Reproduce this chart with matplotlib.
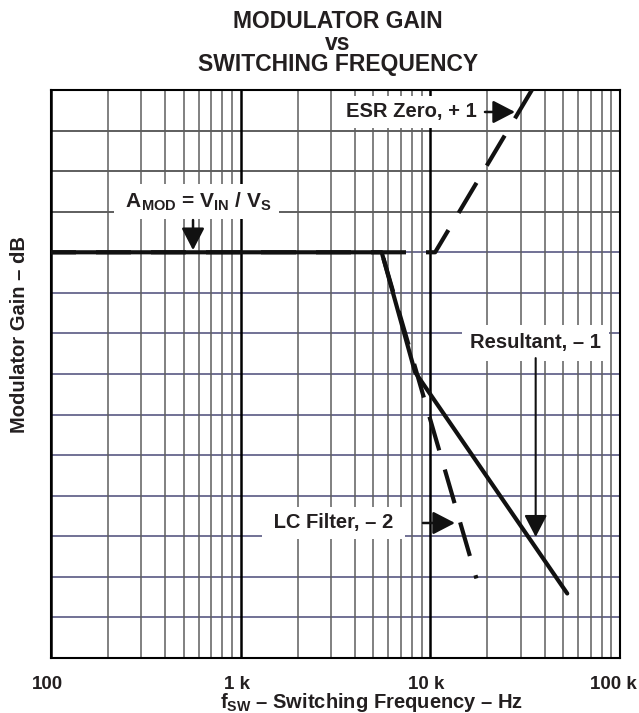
import matplotlib
matplotlib.use('Agg')
import matplotlib.pyplot as plt
from matplotlib.ticker import FixedLocator, NullFormatter
from matplotlib.transforms import ScaledTranslation

# data (gain in grid divisions, 0..14)
res_freq = [100, 5540, 8300, 52700]
res_gain = [10, 10, 7.05, 1.59]
lc_freq = [5540, 17500]
lc_gain = [10, 1.96]
esr_freq = [100, 10600, 34300]
esr_gain = [10, 10, 14]

tick_vals = [100, 1000, 10000, 100000]
tick_labels = ['100', '1 k', '10 k', '100 k']

plt.rcParams['font.family'] = ['Liberation Sans', 'DejaVu Sans']
plt.rcParams['font.weight'] = 'bold'
plt.rcParams['mathtext.fontset'] = 'custom'
plt.rcParams['mathtext.rm'] = 'Liberation Sans:bold'
plt.rcParams['mathtext.it'] = 'Liberation Sans:bold'
plt.rcParams['mathtext.bf'] = 'Liberation Sans:bold'
plt.rcParams['mathtext.default'] = 'rm'

ink = '#231f20'
fs = 14.5

fig = plt.figure(figsize=(6.39, 7.13), dpi=100)
ax = fig.add_axes([51 / 639, 55 / 713, 569 / 639, 568 / 713])

ax.set_xscale('log')
ax.set_xlim(100, 1e5)
ax.set_ylim(0, 14)

# grid
ax.set_yticks(range(0, 15))
ax.set_yticklabels([])
for g in range(1, 14):
    c = '#333333' if g > 10 else '#4a4a78'
    ax.axhline(g, color=c, lw=1.1, zorder=0.5)
ax.grid(True, which='major', axis='x', color='black', lw=1.8, zorder=0.5)
ax.grid(True, which='minor', axis='x', color='#5e5e5e', lw=1.1, zorder=0.5)
ax.xaxis.set_minor_formatter(NullFormatter())
ax.tick_params(which='both', length=0)
for s in ax.spines.values():
    s.set_linewidth(1.5)
    s.set_color('black')

ax.xaxis.set_major_locator(FixedLocator(tick_vals))
ax.set_xticklabels(tick_labels, fontsize=13.5, fontweight='bold', color=ink)
ax.tick_params(axis='x', pad=13)
for i, lbl in enumerate(ax.get_xticklabels()):
    dx = -0.07 if i == len(tick_vals) - 1 else -0.04
    lbl.set_transform(lbl.get_transform() + ScaledTranslation(dx, 0, fig.dpi_scale_trans))

# curves
lw = 3
ax.plot(esr_freq, esr_gain, color='#111111', lw=lw, linestyle=(2.4, (8.4, 4.8)), zorder=3)
ax.plot(lc_freq, lc_gain, color='#111111', lw=lw, linestyle=(11.7, (8.4, 4.8)), zorder=3)
ax.plot(res_freq, res_gain, color='#111111', lw=lw, solid_capstyle='round', zorder=3)

# labels with white boxes
box = dict(boxstyle='square,pad=0.3', fc='white', ec='none')
arrow = dict(arrowstyle='-|>,head_length=1.35,head_width=0.7', color='#111111',
             lw=1.8, shrinkA=0, shrinkB=0)

ax.text(0.255, 0.803, r' A$_{MOD}$ = V$_{IN}$ / V$_{S}$ ', transform=ax.transAxes,
        ha='center', va='center', fontsize=fs + 0.5, color=ink, bbox=box, zorder=4)
ax.annotate('', xy=(0.2496, 0.718), xytext=(0.2496, 0.771), xycoords='axes fraction',
            arrowprops=arrow, zorder=5)

ax.text(0.6336, 0.9613, 'ESR Zero, + 1', transform=ax.transAxes,
        ha='center', va='center', fontsize=fs, color=ink, bbox=box, zorder=4)
ax.annotate('', xy=(0.8155, 0.9613), xytext=(0.7627, 0.9613), xycoords='axes fraction',
            arrowprops=arrow, zorder=5)

ax.text(0.8515, 0.5546, 'Resultant, \u2013 1', transform=ax.transAxes,
        ha='center', va='center', fontsize=fs, color=ink,
        bbox=dict(boxstyle='square,pad=0.4', fc='white', ec='none'), zorder=4)
ax.annotate('', xy=(0.8518, 0.213), xytext=(0.8518, 0.528), xycoords='axes fraction',
            arrowprops=dict(arrow, lw=1.5), zorder=5)

ax.text(0.4965, 0.2377, ' LC Filter, \u2013 2 ', transform=ax.transAxes,
        ha='center', va='center', fontsize=fs, color=ink, bbox=box, zorder=4)
ax.annotate('', xy=(0.710, 0.2377), xytext=(0.6538, 0.2377), xycoords='axes fraction',
            arrowprops=arrow, zorder=5)

# axis titles
ax.set_xlabel('f$_{SW}$ \u2013 Switching Frequency \u2013 Hz',
              fontsize=fs, fontweight='bold', color=ink, va='baseline')
ax.xaxis.set_label_coords(0.5633, -0.0875)
ax.set_ylabel('Modulator Gain \u2013 dB', fontsize=fs, fontweight='bold', color=ink, va='baseline')
ax.yaxis.set_label_coords(-0.0457, 0.5687)

title_lines = ['MODULATOR GAIN', 'vs', 'SWITCHING FREQUENCY']
title_y = [0.9603, 0.9299, 0.9004]
for t, y in zip(title_lines, title_y):
    fig.text(0.529, y, t, ha='center', va='baseline', fontsize=16.5, fontweight='bold', color=ink)

fig.savefig('out.png', dpi=100)
